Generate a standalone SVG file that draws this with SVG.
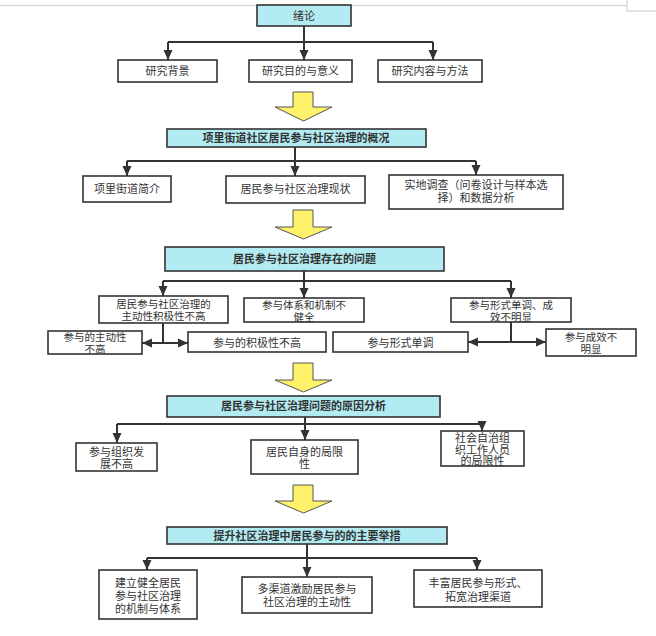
<svg xmlns="http://www.w3.org/2000/svg" width="656" height="636" viewBox="0 0 656 636">
<style>
.t{font-family:"Noto Sans CJK SC","Liberation Sans",sans-serif;font-size:11px;fill:#333;text-anchor:middle}
.s{font-size:10.5px}
.b{font-weight:bold}
.box{fill:#fff;stroke:#333;stroke-width:1.6}
.title{fill:#b2ebf2;stroke:#333;stroke-width:1.6}
.c{fill:none;stroke:#333;stroke-width:2}
.ya{fill:#fff26b;stroke:#555;stroke-width:1}
.g{stroke:#d9d9d9;stroke-width:1.5;fill:none}
</style>
<defs>
<marker id="ah" markerUnits="userSpaceOnUse" markerWidth="10" markerHeight="10" viewBox="0 0 10 10" refX="10" refY="5" orient="auto">
<path d="M0,0.5 L10,5 L0,9.5 z" fill="#333"/>
</marker>
</defs>
<rect width="656" height="636" fill="#fff"/>
<path class="g" d="M0 5.5 H627 M627 0 V11 H656"/>

<g id="connectors">
<path class="c" d="M304 26 V42 M168 42 H433"/>
<path class="c" d="M168 42 V60" marker-end="url(#ah)"/>
<path class="c" d="M304 42 V60" marker-end="url(#ah)"/>
<path class="c" d="M433 42 V60" marker-end="url(#ah)"/>

<path class="c" d="M295 147 V161 M127 161 H476"/>
<path class="c" d="M127 161 V176" marker-end="url(#ah)"/>
<path class="c" d="M295 161 V176" marker-end="url(#ah)"/>
<path class="c" d="M476 161 V175" marker-end="url(#ah)"/>

<path class="c" d="M304 271 V281 M163 281 H511"/>
<path class="c" d="M163 281 V296" marker-end="url(#ah)"/>
<path class="c" d="M304 281 V298" marker-end="url(#ah)"/>
<path class="c" d="M511 281 V298" marker-end="url(#ah)"/>

<path class="c" d="M163 323 V343"/>
<path class="c" d="M163 343 H142" marker-end="url(#ah)"/>
<path class="c" d="M163 343 H188" marker-end="url(#ah)"/>
<path class="c" d="M511 322 V342"/>
<path class="c" d="M511 342 H468" marker-end="url(#ah)"/>
<path class="c" d="M511 342 H546" marker-end="url(#ah)"/>

<path class="c" d="M305 417 V424 M117 424 H482"/>
<path class="c" d="M117 424 V443" marker-end="url(#ah)"/>
<path class="c" d="M305 424 V440" marker-end="url(#ah)"/>
<path class="c" d="M482 424 V431" marker-end="url(#ah)"/>

<path class="c" d="M307 544 V558 M147 558 H477"/>
<path class="c" d="M147 558 V570" marker-end="url(#ah)"/>
<path class="c" d="M307 558 V577" marker-end="url(#ah)"/>
<path class="c" d="M477 558 V570" marker-end="url(#ah)"/>

<polygon class="ya" points="293,92 313,92 313,107 332,107 303.5,121 275,107 293,107"/>
<polygon class="ya" points="293,210 313,210 313,227 332,227 303.5,239 275,227 293,227"/>
<polygon class="ya" points="293,363 313,363 313,380 332,380 303.5,392 275,380 293,380"/>
<polygon class="ya" points="293,485 313,485 313,501 332,501 303.5,513 275,501 293,501"/>
</g>

<g id="n1"><rect class="title" x="257" y="5" width="94" height="21"/><text class="t" x="304" y="19.5">绪论</text></g>
<g id="n1a"><rect class="box" x="118" y="60" width="99" height="22"/><text class="t" x="167.5" y="75">研究背景</text></g>
<g id="n1b"><rect class="box" x="249" y="60" width="103" height="22"/><text class="t" x="300.5" y="75">研究目的与意义</text></g>
<g id="n1c"><rect class="box" x="378" y="60" width="104" height="22"/><text class="t" x="430" y="75">研究内容与方法</text></g>

<g id="n2"><rect class="title" x="167" y="129" width="259" height="18"/><text class="t b" x="296" y="142">项里街道社区居民参与社区治理的概况</text></g>
<g id="n2a"><rect class="box" x="83" y="176" width="88" height="26"/><text class="t" x="127" y="193">项里街道简介</text></g>
<g id="n2b"><rect class="box" x="226" y="176" width="139" height="27"/><text class="t" x="295.5" y="193">居民参与社区治理现状</text></g>
<g id="n2c"><rect class="box" x="389" y="175" width="174" height="34"/><text class="t" x="476" y="189">实地调查（问卷设计与样本选</text><text class="t" x="476" y="202">择）和数据分析</text></g>

<g id="n3"><rect class="title" x="165" y="247" width="279" height="24"/><text class="t b" x="304.5" y="263">居民参与社区治理存在的问题</text></g>
<g id="n3a"><rect class="box" x="99" y="296" width="129" height="27"/><text class="t s" x="163.5" y="307.5">居民参与社区治理的</text><text class="t s" x="163.5" y="319.5">主动性积极性不高</text></g>
<g id="n3b"><rect class="box" x="244" y="298" width="120" height="24"/><text class="t s" x="304" y="308.5">参与体系和机制不</text><text class="t s" x="304" y="320.5">健全</text></g>
<g id="n3c"><rect class="box" x="451" y="298" width="120" height="24"/><text class="t s" x="511" y="308.5">参与形式单调、成</text><text class="t s" x="511" y="320.5">效不明显</text></g>
<g id="n3a1"><rect class="box" x="48" y="331" width="94" height="23"/><text class="t s" x="95" y="340.5">参与的主动性</text><text class="t s" x="95" y="352.5">不高</text></g>
<g id="n3a2"><rect class="box" x="188" y="332" width="138" height="20"/><text class="t" x="257" y="347">参与的积极性不高</text></g>
<g id="n3c1"><rect class="box" x="333" y="332" width="135" height="20"/><text class="t" x="400.5" y="347">参与形式单调</text></g>
<g id="n3c2"><rect class="box" x="546" y="329" width="90" height="27"/><text class="t s" x="591" y="340.5">参与成效不</text><text class="t s" x="591" y="352.5">明显</text></g>

<g id="n4"><rect class="title" x="167" y="396" width="273" height="21"/><text class="t b" x="303.5" y="410">居民参与社区治理问题的原因分析</text></g>
<g id="n4a"><rect class="box" x="76" y="443" width="81" height="28"/><text class="t" x="116.5" y="455.5">参与组织发</text><text class="t" x="116.5" y="467.5">展不高</text></g>
<g id="n4b"><rect class="box" x="251" y="440" width="107" height="34"/><text class="t" x="304.5" y="455.5">居民自身的局限</text><text class="t" x="304.5" y="467.5">性</text></g>
<g id="n4c"><rect class="box" x="441" y="431" width="83" height="35"/><text class="t" x="482.5" y="442">社会自治组</text><text class="t" x="482.5" y="453.5">织工作人员</text><text class="t" x="482.5" y="465">的局限性</text></g>

<g id="n5"><rect class="title" x="167" y="527" width="280" height="17"/><text class="t b" x="307" y="540">提升社区治理中居民参与的的主要举措</text></g>
<g id="n5a"><rect class="box" x="99" y="570" width="98" height="49"/><text class="t" x="148" y="587">建立健全居民</text><text class="t" x="148" y="600">参与社区治理</text><text class="t" x="148" y="613">的机制与体系</text></g>
<g id="n5b"><rect class="box" x="242" y="577" width="130" height="36"/><text class="t" x="307" y="593">多渠道激励居民参与</text><text class="t" x="307" y="606">社区治理的主动性</text></g>
<g id="n5c"><rect class="box" x="414" y="570" width="128" height="37"/><text class="t" x="478" y="587">丰富居民参与形式、</text><text class="t" x="478" y="601">拓宽治理渠道</text></g>
</svg>
